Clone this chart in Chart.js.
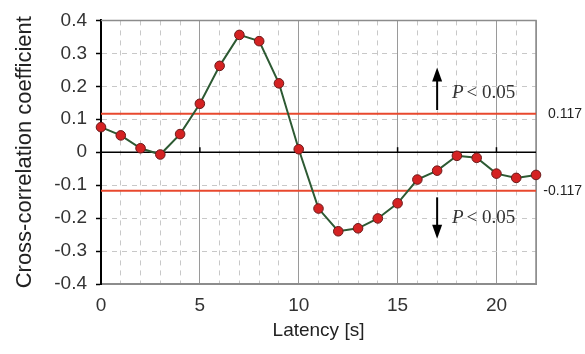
<!DOCTYPE html>
<html>
<head>
<meta charset="utf-8">
<script src="https://cdn.jsdelivr.net/npm/chart.js@4"></script>
<style>
  html, body { margin: 0; padding: 0; background: #fff; }
  #wrap { width: 585px; height: 354px; position: relative; }
</style>
</head>
<body>
<div id="wrap"><canvas id="grafico"></canvas></div>
<script>
// latencia (s) y coeficiente de correlacion cruzada
const latencias = [0, 1, 2, 3, 4, 5, 6, 7, 8, 9, 10, 11, 12, 13, 14, 15, 16, 17, 18, 19, 20, 21, 22];
const coeficientes = [0.076, 0.051, 0.012, -0.007, 0.055, 0.147, 0.262, 0.356, 0.337, 0.209, 0.009,
  -0.171, -0.240, -0.231, -0.201, -0.155, -0.083, -0.056, -0.011, -0.017, -0.065, -0.078, -0.069];
const umbral = 0.117;            // limite P < 0.05
const rangoX = [0, 22];
const rangoY = [-0.4, 0.4];
const flechaArriba = [0.128, 0.257];
const flechaAbajo = [-0.137, -0.263];
const xFlecha = 17;

const puntos = latencias.map((x, i) => ({ x: x, y: coeficientes[i] }));
const linea = v => rangoX.map(x => ({ x: x, y: v }));

const anotaciones = {
  id: 'anotaciones',
  beforeDatasetsDraw(chart) {
    const { ctx, chartArea: a, scales } = chart;
    ctx.save();
    ctx.strokeStyle = '#8c8c8c';
    ctx.lineWidth = 1.5;
    ctx.beginPath();
    ctx.moveTo(a.left, a.top);
    ctx.lineTo(a.right, a.top);
    ctx.lineTo(a.right, a.bottom);
    ctx.stroke();
    // marcas pequenas sobre el cero
    const y0 = scales.y.getPixelForValue(0);
    ctx.strokeStyle = '#000';
    ctx.lineWidth = 1.5;
    [5, 10, 15, 20].forEach(v => {
      const px = scales.x.getPixelForValue(v);
      ctx.beginPath();
      ctx.moveTo(px, y0);
      ctx.lineTo(px, y0 - 5);
      ctx.stroke();
    });
    ctx.restore();
  },
  afterDraw(chart) {
    const { ctx, chartArea: a, scales } = chart;
    const sx = scales.x, sy = scales.y;
    ctx.save();
    const px = sx.getPixelForValue(xFlecha);
    function flecha(y1, y2) {
      const p1 = sy.getPixelForValue(y1), p2 = sy.getPixelForValue(y2);
      const dir = p2 < p1 ? 1 : -1;
      ctx.strokeStyle = '#000';
      ctx.fillStyle = '#000';
      ctx.lineWidth = 2;
      ctx.beginPath();
      ctx.moveTo(px, p1);
      ctx.lineTo(px, p2 + dir * 10);
      ctx.stroke();
      ctx.beginPath();
      ctx.moveTo(px, p2);
      ctx.lineTo(px - 5, p2 + dir * 14);
      ctx.lineTo(px + 5, p2 + dir * 14);
      ctx.closePath();
      ctx.fill();
    }
    flecha(flechaArriba[0], flechaArriba[1]);
    flecha(flechaAbajo[0], flechaAbajo[1]);

    function texto(yv) {
      const y = sy.getPixelForValue(yv);
      let x = sx.getPixelForValue(17.75);
      ctx.fillStyle = '#333';
      ctx.textBaseline = 'middle';
      ctx.textAlign = 'left';
      ctx.font = 'italic 19px "Liberation Serif", serif';
      ctx.fillText('P', x, y);
      x += ctx.measureText('P').width + 3;
      ctx.font = '19px "Liberation Serif", serif';
      ctx.fillText('< 0.05', x, y);
    }
    texto(0.179);
    texto(-0.199);

    ctx.font = '14px "Liberation Sans", Arial, sans-serif';
    ctx.fillStyle = '#222';
    ctx.textAlign = 'right';
    ctx.textBaseline = 'middle';
    ctx.fillText(umbral.toFixed(3), a.right + 46, sy.getPixelForValue(umbral));
    ctx.fillText((-umbral).toFixed(3), a.right + 46, sy.getPixelForValue(-umbral));
    ctx.restore();
  }
};

new Chart(document.getElementById('grafico').getContext('2d'), {
  type: 'line',
  data: {
    datasets: [
      {
        label: 'Cross-correlation',
        data: puntos,
        borderColor: '#2d5a33',
        borderWidth: 2,
        backgroundColor: '#d42222',
        pointBackgroundColor: '#d42222',
        pointBorderColor: '#6a1a1a',
        pointBorderWidth: 1,
        pointRadius: 4.8,
        tension: 0,
        clip: 10,
        order: 0
      },
      { data: linea(0), borderColor: '#000', borderWidth: 1.5, pointRadius: 0, order: 2 },
      { data: linea(umbral), borderColor: '#e8482e', borderWidth: 2, pointRadius: 0, order: 1 },
      { data: linea(-umbral), borderColor: '#e8482e', borderWidth: 2, pointRadius: 0, order: 1 }
    ]
  },
  options: {
    responsive: true,
    maintainAspectRatio: false,
    animation: false,
    layout: { padding: { left: 0, top: 16, right: 49, bottom: 0 } },
    plugins: { legend: { display: false }, tooltip: { enabled: false } },
    scales: {
      x: {
        type: 'linear',
        min: rangoX[0],
        max: rangoX[1],
        afterFit: s => { s.height = 70; },
        ticks: {
          stepSize: 1,
          autoSkip: false,
          maxRotation: 0,
          padding: 10,
          color: '#333',
          font: { family: '"Liberation Sans", Arial, sans-serif', size: 19 },
          callback: v => (v % 5 === 0 ? String(v) : '')
        },
        grid: { color: '#c8c8c8', lineWidth: 1, drawTicks: false },
        border: { color: '#8c8c8c', width: 2, dash: [5, 5] },
        title: {
          display: true,
          text: 'Latency [s]',
          color: '#222',
          padding: { top: 0, bottom: 12 },
          font: { family: '"Liberation Sans", Arial, sans-serif', size: 19 }
        }
      },
      x2: {
        type: 'linear',
        position: 'bottom',
        min: rangoX[0],
        max: rangoX[1],
        afterFit: s => { s.height = 0; },
        ticks: { stepSize: 5, display: false },
        grid: { color: '#9a9a9a', lineWidth: 1, drawTicks: false },
        border: { display: false }
      },
      y: {
        min: rangoY[0],
        max: rangoY[1],
        afterFit: s => { s.width = 101; },
        ticks: {
          stepSize: 0.1,
          padding: 9,
          color: '#333',
          font: { family: '"Liberation Sans", Arial, sans-serif', size: 19 },
          callback: v => (Math.abs(v) < 1e-9 ? '0' : v.toFixed(1))
        },
        grid: { color: '#c8c8c8', lineWidth: 1, tickLength: 5, tickColor: '#000', tickWidth: 1.5 },
        border: { color: '#000', width: 2, dash: [5, 5] },
        title: {
          display: true,
          text: 'Cross-correlation coefficient',
          color: '#222',
          padding: { top: 12, bottom: 0 },
          font: { family: '"Liberation Sans", Arial, sans-serif', size: 22 }
        }
      }
    }
  },
  plugins: [anotaciones]
});
</script>
</body>
</html>
